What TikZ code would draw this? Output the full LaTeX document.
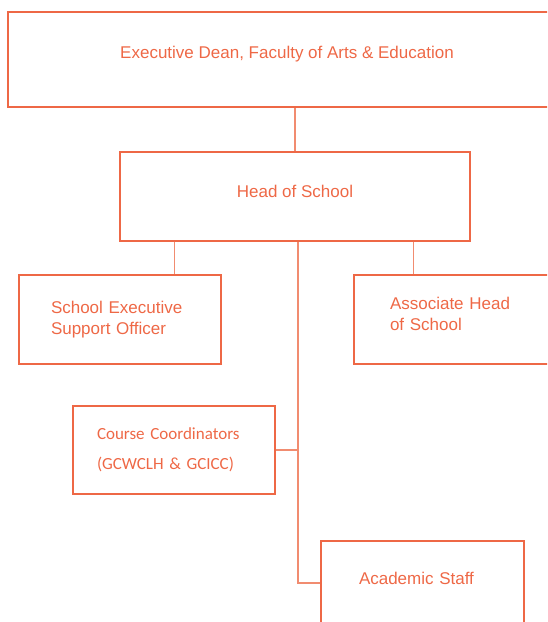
\documentclass[tikz,border=0pt]{standalone}
\usepackage{fontspec}
\setmainfont{Liberation Sans}
\newfontfamily\calibri{Carlito}
\usetikzlibrary{positioning, calc}
\definecolor{orgred}{RGB}{238,104,70}
\definecolor{orglink}{RGB}{241,140,112}

\begin{document}
\begin{tikzpicture}[
  x=1pt, y=-1pt,
  post/.style={rectangle, draw=orgred, line width=1.1pt, text=orgred,
               font=\fontsize{17}{21}\selectfont, inner sep=0pt},
  link/.style={draw=orglink, line width=1.2pt}
]
  \useasboundingbox (0,0) rectangle (547,622);
  \clip (0,0) rectangle (547,622);

  % boxes
  \node[post, minimum width=558pt, minimum height=95pt,
        text height=12pt, text depth=14pt] (dean) at (287,59.5)
    {Executive Dean, Faculty of Arts \& Education};
  \node[post, minimum width=350pt, minimum height=89pt,
        text height=12pt, text depth=10pt] (head) at (295,196.5)
    {Head of School};
  \node[post, text width=138pt, inner xsep=32pt, align=left,
        minimum height=89pt] (seso) at (120,319.5)
    {School Executive\\Support Officer};
  \node[post, text width=150pt, inner xsep=36pt, align=left,
        minimum height=89pt, text depth=33pt] (assoc) at (465,319.5)
    {Associate Head\\of School};
  \node[post, text width=154pt, inner xsep=24pt, align=left,
        minimum height=88pt, font=\calibri\fontsize{17}{30}\selectfont] (coord) at (174,450)
    {Course Coordinators\\(GCWCLH \& GCICC)};
  \node[post, text width=127pt, inner xsep=38pt, align=left,
        minimum height=98pt, text height=11pt, text depth=23pt] (staff) at (422.5,590)
    {Academic Staff};

  % reporting lines
  \draw[link] (head.north) -- (head.north |- dean.south);
  \draw[link] ([xshift=55pt]head.south west) -- ([xshift=55pt]head.south west |- seso.north);
  \draw[link] ([xshift=-57pt]head.south east) -- ([xshift=-57pt]head.south east |- assoc.north);
  \coordinate (trunk) at ([xshift=3pt]head.south);
  \draw[link] (trunk) |- ([yshift=7pt]staff.west);
  \draw[link] (coord.east) -- (coord.east -| trunk);
\end{tikzpicture}
\end{document}
